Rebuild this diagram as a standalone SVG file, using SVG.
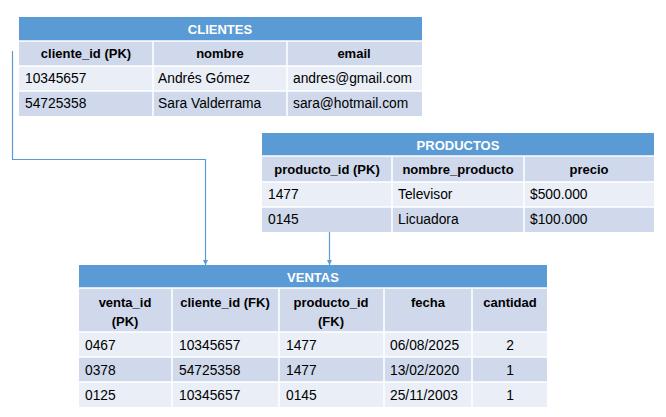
<svg xmlns="http://www.w3.org/2000/svg" width="666" height="417" viewBox="0 0 666 417">
<style>
.title{fill:#5B9BD5}
.hdr{fill:#CFD9EB}
.r1{fill:#E9EEF7}
.r2{fill:#CFD9EB}
.grid{stroke:#FFFFFF;stroke-width:1.5;fill:none}
.tt{font-family:"Liberation Sans",Arial,sans-serif;font-size:13px;font-weight:bold;fill:#FFFFFF;text-anchor:middle}
.th{font-family:"Liberation Sans",Arial,sans-serif;font-size:13px;font-weight:bold;fill:#000000;text-anchor:middle}
.td{font-family:"Liberation Sans",Arial,sans-serif;font-size:13.8px;fill:#000000}
.tc{text-anchor:middle}
.conn{stroke:#5B9BD5;stroke-width:1.2;fill:none}
</style>
<defs>
<marker id="arr" markerWidth="6" markerHeight="5" refX="5" refY="2.5" orient="auto" markerUnits="userSpaceOnUse">
<path d="M0,0 L5,2.5 L0,5 Z" fill="#5B9BD5"/>
</marker>
</defs>

<g id="clientes">
<rect class="title" x="19" y="17" width="403" height="24"/>
<rect class="hdr" x="19" y="41" width="403" height="25"/>
<rect class="r1" x="19" y="66" width="403" height="25"/>
<rect class="r2" x="19" y="91" width="403" height="25"/>
<path class="grid" d="M19,41H422M19,66H422M19,91H422M153,41V116M287,41V116"/>
<text class="tt" x="220" y="34">CLIENTES</text>
<text class="th" x="86" y="58">cliente_id (PK)</text>
<text class="th" x="220" y="58">nombre</text>
<text class="th" x="354" y="58">email</text>
<text class="td" x="25" y="83">10345657</text>
<text class="td" x="158" y="83">Andrés Gómez</text>
<text class="td" x="293" y="83">andres@gmail.com</text>
<text class="td" x="25" y="108">54725358</text>
<text class="td" x="158" y="108">Sara Valderrama</text>
<text class="td" x="293" y="108">sara@hotmail.com</text>
</g>

<g id="productos">
<rect class="title" x="262" y="133" width="392" height="23"/>
<rect class="hdr" x="262" y="156" width="392" height="26"/>
<rect class="r1" x="262" y="182" width="392" height="25"/>
<rect class="r2" x="262" y="207" width="392" height="25"/>
<path class="grid" d="M262,156H654M262,182H654M262,207H654M392,156V232M524,156V232"/>
<text class="tt" x="458" y="150">PRODUCTOS</text>
<text class="th" x="327" y="174">producto_id (PK)</text>
<text class="th" x="458" y="174">nombre_producto</text>
<text class="th" x="589" y="174">precio</text>
<text class="td" x="268" y="199">1477</text>
<text class="td" x="398" y="199">Televisor</text>
<text class="td" x="530" y="199">$500.000</text>
<text class="td" x="268" y="224">0145</text>
<text class="td" x="398" y="224">Licuadora</text>
<text class="td" x="530" y="224">$100.000</text>
</g>

<g id="ventas">
<rect class="title" x="79" y="265" width="468" height="23"/>
<rect class="hdr" x="79" y="288" width="468" height="44"/>
<rect class="r1" x="79" y="332" width="468" height="25"/>
<rect class="r2" x="79" y="357" width="468" height="25"/>
<rect class="r1" x="79" y="382" width="468" height="25"/>
<path class="grid" d="M79,288H547M79,332H547M79,357H547M79,382H547M172,288V407M279,288V407M384,288V407M472,288V407"/>
<text class="tt" x="313" y="282">VENTAS</text>
<text class="th" x="125" y="307">venta_id</text>
<text class="th" x="125" y="326">(PK)</text>
<text class="th" x="225" y="307">cliente_id (FK)</text>
<text class="th" x="331" y="307">producto_id</text>
<text class="th" x="331" y="326">(FK)</text>
<text class="th" x="428" y="307">fecha</text>
<text class="th" x="510" y="307">cantidad</text>
<text class="td" x="85" y="350">0467</text>
<text class="td" x="179" y="350">10345657</text>
<text class="td" x="286" y="350">1477</text>
<text class="td" x="390" y="350">06/08/2025</text>
<text class="td tc" x="510" y="350">2</text>
<text class="td" x="85" y="375">0378</text>
<text class="td" x="179" y="375">54725358</text>
<text class="td" x="286" y="375">1477</text>
<text class="td" x="390" y="375">13/02/2020</text>
<text class="td tc" x="510" y="375">1</text>
<text class="td" x="85" y="400">0125</text>
<text class="td" x="179" y="400">10345657</text>
<text class="td" x="286" y="400">0145</text>
<text class="td" x="390" y="400">25/11/2003</text>
<text class="td tc" x="510" y="400">1</text>
</g>

<g id="connectors">
<path class="conn" d="M12.5,51V159.5H205.5V265" marker-end="url(#arr)"/>
<path class="conn" d="M329.5,232V265" marker-end="url(#arr)"/>
</g>
</svg>
